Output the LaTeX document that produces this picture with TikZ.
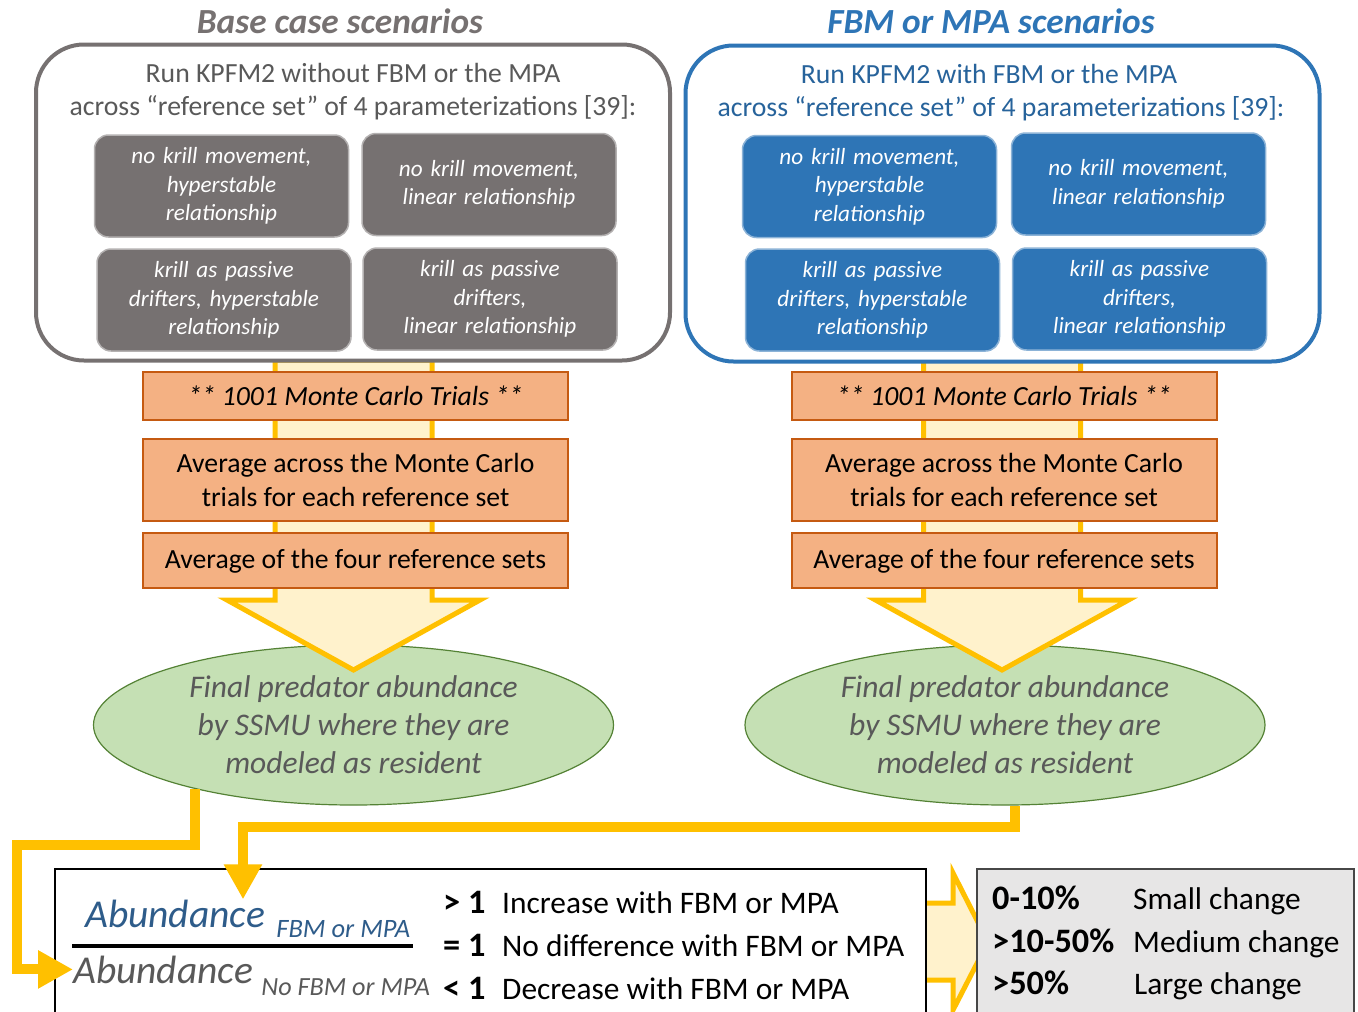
\documentclass[tikz,border=0pt]{standalone}
\usepackage{fontspec}
\setmainfont{Carlito}
\usetikzlibrary{shapes.geometric,arrows.meta,positioning}

\definecolor{basegray}{HTML}{767171}
\definecolor{fbmblue}{HTML}{2E75B6}
\definecolor{trialfill}{HTML}{F4B183}
\definecolor{trialdraw}{HTML}{C55A11}
\definecolor{flowgold}{HTML}{FFC000}
\definecolor{flowpale}{HTML}{FFF2CC}
\definecolor{ssmugreen}{HTML}{C5E0B4}
\definecolor{ssmuedge}{HTML}{548235}
\definecolor{textgray}{HTML}{595959}
\definecolor{abdblue}{HTML}{2E5C8A}
\definecolor{legendgray}{HTML}{E7E6E6}

\newcommand{\fs}[2]{\fontsize{#1}{#2}\selectfont}

\begin{document}
\begin{tikzpicture}[x=1pt, y=-1pt,
  title/.style={font=\bfseries\itshape\fs{35.3}{40}},
  frame/.style={draw=#1, line width=4pt, fill=white, rounded corners=48pt,
    minimum width=634pt, minimum height=316pt},
  head/.style={font=\fs{27.7}{33}, align=center},
  param/.style={rounded corners=14pt, draw=#1!55!white, line width=1.5pt, fill=#1,
    text=white, font=\itshape\fs{23.2}{28.5}, align=center, text width=240pt,
    minimum width=254pt, minimum height=102pt},
  trial/.style={draw=trialdraw, line width=2pt, fill=trialfill, font=\fs{27.7}{34},
    align=center, minimum width=425pt},
  ssmu/.style={ellipse, draw=ssmuedge, line width=1.2pt, fill=ssmugreen,
    minimum width=520pt, minimum height=160pt, text=textgray,
    font=\itshape\fs{31.5}{38}, align=center},
  bigarrow/.style={draw=flowgold, line width=5pt, fill=flowpale, line join=miter},
  link/.style={draw=flowgold, line width=10pt, -{Triangle[length=35pt,width=36pt]}},
  row/.style={anchor=base west, inner sep=0pt, font=\fs{31.4}{36}},
  rowkey/.style={row, font=\bfseries\fs{34.3}{38}},
]
\useasboundingbox (0,0) rectangle (1358,1012);

% result ellipses
\node[ssmu] (ellA) at (353.5,725) {Final predator abundance\\by SSMU where they are\\modeled as resident};
\node[ssmu] (ellB) at (1005,725) {Final predator abundance\\by SSMU where they are\\modeled as resident};

% flow arrows behind the steps
\draw[bigarrow] (275,360) -- (275,600) -- (227,600) -- (353.5,670) -- (480,600) -- (432,600) -- (432,360) -- cycle;
\draw[bigarrow] (923.5,360) -- (923.5,600) -- (875.5,600) -- (1002,670) -- (1128.5,600) -- (1080.5,600) -- (1080.5,360) -- cycle;

% steps
\node[trial, minimum height=48pt, font=\itshape\fs{27.7}{34}] (trA) at (355.5,396) {** 1001 Monte Carlo Trials **};
\node[trial, minimum height=82pt] (avgA) at (355.5,479.5) {Average across the Monte Carlo\\trials for each reference set};
\node[trial, minimum height=55pt, text depth=2pt] (setA) at (355.5,560) {Average of the four reference sets};
\node[trial, minimum height=48pt, font=\itshape\fs{27.7}{34}] (trB) at (1004,396) {** 1001 Monte Carlo Trials **};
\node[trial, minimum height=82pt] (avgB) at (1004,479.5) {Average across the Monte Carlo\\trials for each reference set};
\node[trial, minimum height=55pt, text depth=2pt] (setB) at (1004,560) {Average of the four reference sets};

% scenario frames
\node[frame=basegray] (boxA) at (353,202.5) {};
\node[frame=fbmblue] (boxB) at (1002.5,203.5) {};
\node[title, text=basegray] (ttlA) at (340,21) {Base case scenarios};
\node[title, text=fbmblue] (ttlB) at (991,21) {FBM or MPA scenarios};
\node[head, text=textgray] (runA) at (353,92) {Run KPFM2 without FBM or the MPA\\across “reference set” of 4 parameterizations [39]:};
\node[head, text=fbmblue!85!black] (runB) at (1001,93) {Run KPFM2 with FBM or the MPA\hspace*{24pt}\\across “reference set” of 4 parameterizations [39]:};

\node[param=basegray] (pA1) at (221.5,186) {no krill movement,\\hyperstable\\relationship};
\node[param=basegray] (pA2) at (489,184.5) {no krill movement,\\linear relationship};
\node[param=basegray] (pA3) at (224,300) {krill as passive\\drifters, hyperstable\\relationship};
\node[param=basegray] (pA4) at (490,299) {krill as passive\\drifters,\\linear relationship};
\node[param=fbmblue] (pB1) at (869.5,186.5) {no krill movement,\\hyperstable\\relationship};
\node[param=fbmblue] (pB2) at (1138.5,184) {no krill movement,\\linear relationship};
\node[param=fbmblue] (pB3) at (872.5,300) {krill as passive\\drifters, hyperstable\\relationship};
\node[param=fbmblue] (pB4) at (1139.5,299) {krill as passive\\drifters,\\linear relationship};

% comparison
\draw[bigarrow] (926,903) -- (953,903) -- (953,873) -- (988,942) -- (953,1010) -- (953,980) -- (926,980);
\node[draw=black, line width=2pt, fill=white, minimum width=871pt, minimum height=171pt] (ratioBox) at (490.5,954.5) {};
\node[draw=textgray!80!black, line width=2pt, fill=legendgray, minimum width=377pt, minimum height=171pt] (legendBox) at (1165.5,954.5) {};

\node[anchor=base west, inner sep=0pt, text=abdblue, font=\itshape\fs{39.5}{44}] (abdFBM) at (85,927) {Abundance};
\node[anchor=base west, inner sep=0pt, text=abdblue, font=\itshape\fs{26.5}{30}] (subFBM) at ([xshift=11pt,yshift=-10pt]abdFBM.base east) {FBM or MPA};
\draw[line width=3.5pt] (72,946) -- (413,946);
\node[anchor=base west, inner sep=0pt, text=textgray, font=\itshape\fs{39.5}{44}] (abdNo) at (73,983) {Abundance};
\node[anchor=base west, inner sep=0pt, text=textgray, font=\itshape\fs{26.2}{30}] (subNo) at ([xshift=8pt,yshift=-12pt]abdNo.base east) {No FBM or MPA};

\node[rowkey] (gt) at (443,913) {> 1};
\node[row] (incr) at (502,913) {Increase with FBM or MPA};
\node[rowkey] (eq) at (443,956) {= 1};
\node[row] (same) at (502,956) {No difference with FBM or MPA};
\node[rowkey] (lt) at (443,999) {< 1};
\node[row] (decr) at (502,999) {Decrease with FBM or MPA};

\node[rowkey] (small) at (992,909) {0-10\%};
\node[row] (smallTxt) at (1133,909) {Small change};
\node[rowkey] (medium) at (992,952) {>10-50\%};
\node[row] (mediumTxt) at (1133,952) {Medium change};
\node[rowkey] (large) at (992,994) {>50\%};
\node[row] (largeTxt) at (1134,994) {Large change};

% connectors to the ratio
\coordinate (bendA) at (17,845);
\coordinate (bendB) at (243,827);
\draw[link] (ellA.202) |- (bendA) |- (abdNo.west);
\draw[link] (ellB.277) |- (bendB) -- (bendB |- abdFBM.north);
\end{tikzpicture}
\end{document}
